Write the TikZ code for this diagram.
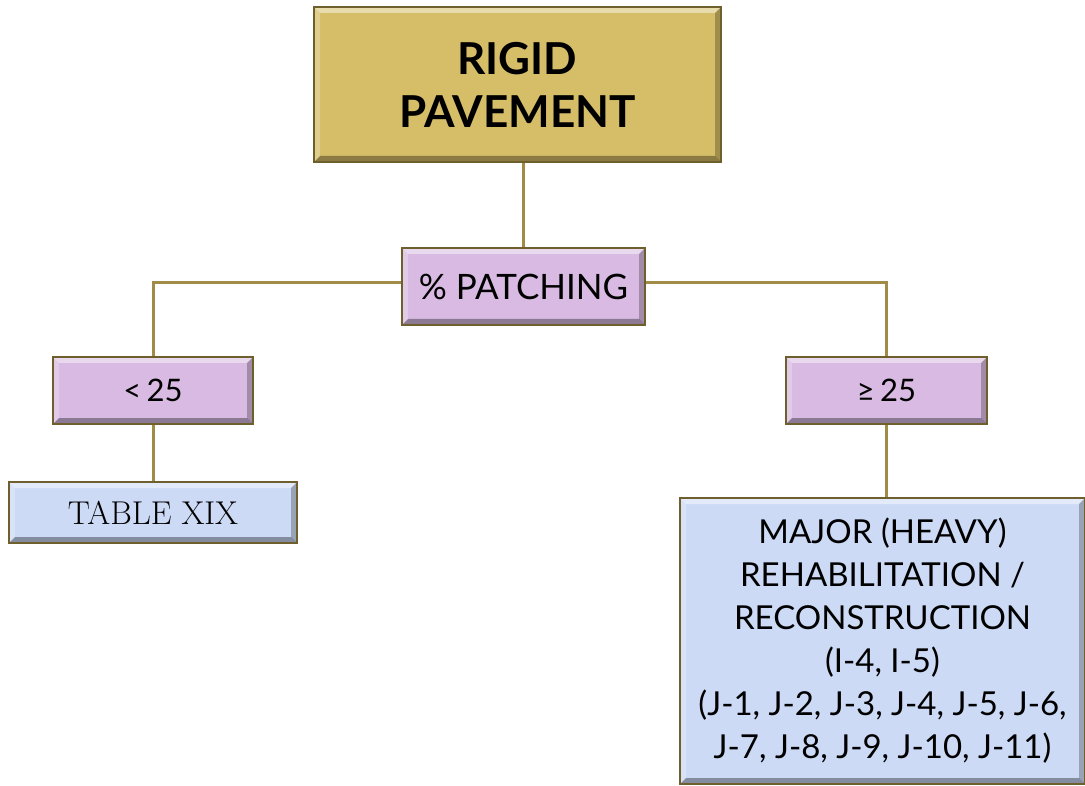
\documentclass[tikz,border=0pt]{standalone}
\usepackage{fontspec}
\setmainfont{Lato}
\newfontfamily\serifjob{Latin Modern Roman}
\begin{document}
\begin{tikzpicture}[x=1pt,y=-1pt,
  bevel/.style={
    path picture={
      \fill[white,opacity=0.45] (path picture bounding box.north west) -- (path picture bounding box.north east)
        -- ([xshift=-6pt,yshift=-6pt]path picture bounding box.north east) -- ([xshift=6pt,yshift=-6pt]path picture bounding box.north west) -- cycle;
      \fill[white,opacity=0.25] (path picture bounding box.north west) -- (path picture bounding box.south west)
        -- ([xshift=6pt,yshift=6pt]path picture bounding box.south west) -- ([xshift=6pt,yshift=-6pt]path picture bounding box.north west) -- cycle;
      \fill[black,opacity=0.35] (path picture bounding box.south west) -- (path picture bounding box.south east)
        -- ([xshift=-6pt,yshift=6pt]path picture bounding box.south east) -- ([xshift=6pt,yshift=6pt]path picture bounding box.south west) -- cycle;
      \fill[black,opacity=0.25] (path picture bounding box.north east) -- (path picture bounding box.south east)
        -- ([xshift=-6pt,yshift=6pt]path picture bounding box.south east) -- ([xshift=-6pt,yshift=-6pt]path picture bounding box.north east) -- cycle;
    }},
  box/.style={bevel, draw=boxedge, line width=2pt, inner sep=0pt, align=center, text=black},
  goldbox/.style={box, fill=goldfill},
  lilacbox/.style={box, fill=lilacfill},
  bluebox/.style={box, fill=bluefill},
  link/.style={draw=linkcol, line width=3pt}
]
\definecolor{goldfill}{RGB}{214,190,104}
\definecolor{lilacfill}{RGB}{216,186,226}
\definecolor{bluefill}{RGB}{204,218,246}
\definecolor{boxedge}{RGB}{110,95,45}
\definecolor{linkcol}{RGB}{160,140,70}
\useasboundingbox (0,0) rectangle (1085,786);

\node[goldbox, minimum width=407pt, minimum height=155pt,
      font=\fontsize{44}{54}\selectfont\bfseries] (top) at (517.5,84.5) {RIGID\\[-1pt]PAVEMENT};
\node[lilacbox, minimum width=243pt, minimum height=77pt,
      font=\fontsize{35}{40}\selectfont] (patch) at (523.5,286.5) {\% PATCHING};
\node[lilacbox, minimum width=200pt, minimum height=67pt,
      font=\fontsize{31}{36}\selectfont] (lt) at (153,390.5) {<\,25};
\node[lilacbox, minimum width=201pt, minimum height=67pt,
      font=\fontsize{31}{36}\selectfont] (ge) at (886.5,390.5) {≥\,25};
\node[bluebox, minimum width=288pt, minimum height=61pt,
      font=\serifjob\fontsize{33}{38}\selectfont] (tab) at (153,512.5) {TABLE XIX};
\node[bluebox, minimum width=405pt, minimum height=286pt,
      font=\fontsize{33}{43}\selectfont] (major) at (882.5,641) {\raisebox{0pt}{}MAJOR (HEAVY)\\REHABILITATION /\\RECONSTRUCTION\\(I-4, I-5)\\(J-1, J-2, J-3, J-4, J-5, J-6,\\J-7, J-8, J-9, J-10, J-11)};

\draw[link] (patch.north) -- (patch.north |- top.south);
\draw[link] (patch.west |- 0,283) -| (lt.north);
\draw[link] (patch.east |- 0,283) -| (ge.north);
\draw[link] (lt.south) -- (tab.north);
\draw[link] (ge.south) -- (ge.south |- major.north);
\end{tikzpicture}
\end{document}
